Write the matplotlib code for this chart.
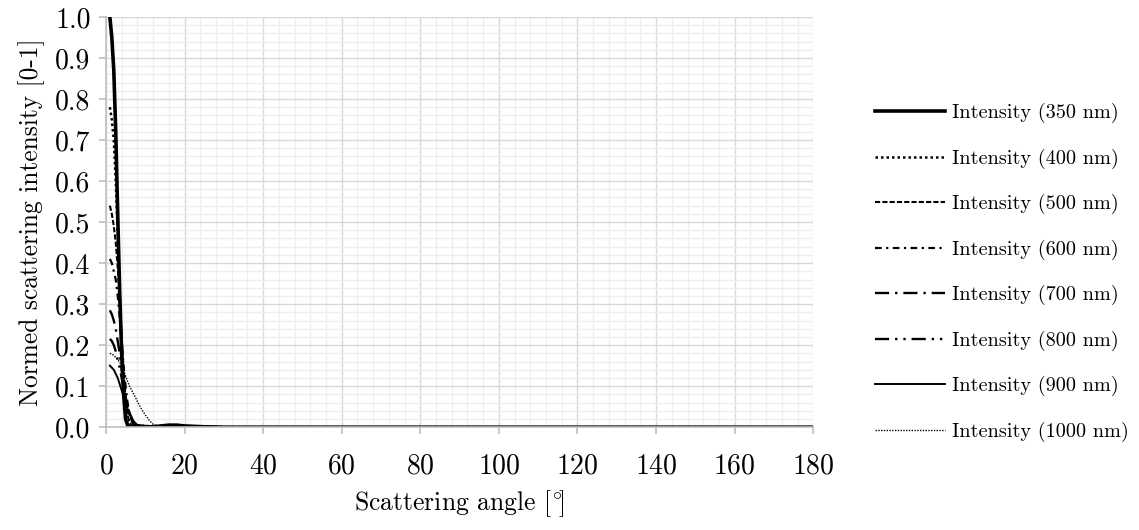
import matplotlib
matplotlib.use("Agg")
import matplotlib.pyplot as plt
from matplotlib.ticker import MultipleLocator

plt.rcParams['font.family'] = ['cmr10', 'DejaVu Serif']
plt.rcParams['mathtext.fontset'] = 'cm'
plt.rcParams['axes.formatter.use_mathtext'] = True

angles = [1, 1.5, 2, 2.5, 3, 3.5, 4, 4.5, 5, 5.5, 6, 7, 8, 9, 10, 11, 12,
          14, 16, 18, 20, 25, 30, 40, 60, 90, 120, 150, 180]

i350 = [1.00, 0.95, 0.87, 0.72, 0.52, 0.33, 0.18, 0.08, 0.02, 0.005, 0.0,
        0.002, 0.003, 0.002, 0.001, 0.0, 0.001, 0.003, 0.005, 0.005, 0.003,
        0.001, 0.0, 0.0, 0.0, 0.0, 0.0, 0.0, 0.0]
i400 = [0.78, 0.75, 0.70, 0.60, 0.47, 0.33, 0.20, 0.10, 0.04, 0.01, 0.0,
        0.003, 0.004, 0.003, 0.001, 0.0, 0.001, 0.003, 0.004, 0.004, 0.003,
        0.001, 0.0, 0.0, 0.0, 0.0, 0.0, 0.0, 0.0]
i500 = [0.54, 0.52, 0.49, 0.45, 0.39, 0.31, 0.22, 0.14, 0.07, 0.03, 0.01,
        0.0, 0.004, 0.004, 0.002, 0.001, 0.001, 0.002, 0.003, 0.003, 0.002,
        0.001, 0.0, 0.0, 0.0, 0.0, 0.0, 0.0, 0.0]
i600 = [0.41, 0.40, 0.38, 0.36, 0.32, 0.27, 0.21, 0.15, 0.10, 0.06, 0.03,
        0.005, 0.002, 0.004, 0.003, 0.002, 0.001, 0.002, 0.003, 0.003, 0.002,
        0.001, 0.0, 0.0, 0.0, 0.0, 0.0, 0.0, 0.0]
i700 = [0.285, 0.275, 0.26, 0.24, 0.21, 0.18, 0.14, 0.105, 0.075, 0.05, 0.03,
        0.008, 0.002, 0.003, 0.003, 0.002, 0.001, 0.001, 0.002, 0.002, 0.002,
        0.001, 0.0, 0.0, 0.0, 0.0, 0.0, 0.0, 0.0]
i800 = [0.215, 0.21, 0.20, 0.185, 0.165, 0.145, 0.12, 0.095, 0.07, 0.05, 0.035,
        0.012, 0.003, 0.002, 0.003, 0.003, 0.002, 0.001, 0.002, 0.002, 0.002,
        0.001, 0.0, 0.0, 0.0, 0.0, 0.0, 0.0, 0.0]
i900 = [0.15, 0.145, 0.14, 0.13, 0.12, 0.105, 0.09, 0.075, 0.06, 0.045, 0.033,
        0.015, 0.005, 0.002, 0.002, 0.003, 0.003, 0.002, 0.002, 0.002, 0.001,
        0.001, 0.0, 0.0, 0.0, 0.0, 0.0, 0.0, 0.0]
i1000 = [0.18, 0.178, 0.175, 0.17, 0.165, 0.158, 0.15, 0.138, 0.125, 0.112, 0.10,
         0.082, 0.063, 0.045, 0.03, 0.017, 0.007, 0.001, 0.001, 0.002, 0.002,
         0.001, 0.0, 0.0, 0.0, 0.0, 0.0, 0.0, 0.0]

labels = ["Intensity (350 nm)", "Intensity (400 nm)", "Intensity (500 nm)",
          "Intensity (600 nm)", "Intensity (700 nm)", "Intensity (800 nm)",
          "Intensity (900 nm)", "Intensity (1000 nm)"]
series = [i350, i400, i500, i600, i700, i800, i900, i1000]
styles = ['-', (0, (1, 1.2)), (0, (2.5, 1)), (0, (3, 2, 1, 2)),
          (0, (6, 2.5, 1, 2.5)), (0, (6, 2.5, 1, 2.5, 1, 2.5)), '-', (0, (1, 1))]
widths = [2.6, 1.8, 1.5, 1.6, 1.7, 1.7, 1.4, 1.0]

fig = plt.figure(figsize=(11.39, 5.30), dpi=100)
ax = fig.add_axes([0.093, 0.194, 0.621, 0.774])

for y, lab, ls, lw in zip(series, labels, styles, widths):
    ax.plot(angles, y, color='black', linestyle=ls, linewidth=lw, label=lab)

ax.set_xlim(0, 180)
ax.set_ylim(0, 1.0)
ax.xaxis.set_major_locator(MultipleLocator(20))
ax.xaxis.set_minor_locator(MultipleLocator(4))
ax.yaxis.set_major_locator(MultipleLocator(0.1))
ax.yaxis.set_minor_locator(MultipleLocator(0.02))
ax.yaxis.set_major_formatter(matplotlib.ticker.FormatStrFormatter('%.1f'))

ax.grid(which='major', color='#d9d9d9', linewidth=1.0)
ax.grid(which='minor', color='#eeeeee', linewidth=1.0)
ax.set_axisbelow(True)
for s in ['top', 'right']:
    ax.spines[s].set_visible(False)
for s in ['left', 'bottom']:
    ax.spines[s].set_color('#bfbfbf')
    ax.spines[s].set_linewidth(1.2)

ax.tick_params(which='major', length=5, color='#bfbfbf', width=1.2,
               labelsize=20, labelcolor='black', pad=6)
ax.tick_params(which='minor', length=0)
ax.tick_params(axis='x', pad=14)

ax.set_xlabel(r'Scattering angle [$^{\circ}\!$]', fontsize=18.5, labelpad=6)
ax.set_ylabel('Normed scattering intensity [0-1]', fontsize=18.3, labelpad=7)

leg = ax.legend(loc='center left', bbox_to_anchor=(1.087, 0.377), frameon=False,
                fontsize=14.6, handlelength=3.45, handletextpad=0.35,
                labelspacing=1.25, borderpad=0, borderaxespad=0)

fig.savefig('out.png', dpi=100)
